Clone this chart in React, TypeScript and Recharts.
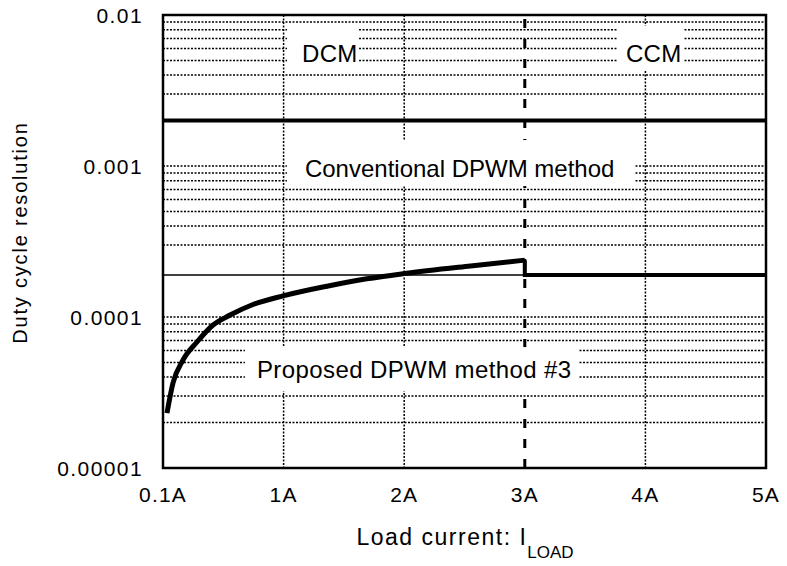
import {
  ComposedChart,
  Line,
  XAxis,
  YAxis,
  CartesianGrid,
  ReferenceLine,
  ReferenceDot,
  ReferenceArea,
} from "recharts"

// x axis is evenly spaced: 0 -> 0.1A, then 1A..5A
const xTicks = [0, 1, 2, 3, 4, 5]
const xTickLabels = ["0.1A", "1A", "2A", "3A", "4A", "5A"]

const yTicks = [1e-5, 1e-4, 1e-3, 1e-2]
const yTickLabels = ["0.00001", "0.0001", "0.001", "0.01"]

// dotted log grid (2e-4 / 2e-3 sit under the solid lines)
const yGrid = [
  2e-5, 3e-5, 4e-5, 5e-5, 6e-5, 7e-5, 8e-5, 9e-5,
  1e-4, 3e-4, 4e-4, 5e-4, 6e-4, 7e-4, 8e-4, 9e-4,
  1e-3, 3e-3, 4e-3, 5e-3, 6e-3, 7e-3, 8e-3, 9e-3,
]
const xGrid = [1, 2, 4]

// Proposed DPWM method #3 (DCM part)
const proposedCurrent = [0.033, 0.083, 0.166, 0.282, 0.415, 0.556, 0.746, 0.995, 1.36, 1.69, 2.0, 2.55, 3.0]
const proposedRes = [2.31e-5, 3.66e-5, 5.19e-5, 6.83e-5, 8.85e-5, 1.03e-4, 1.21e-4, 1.38e-4, 1.6e-4, 1.79e-4, 1.94e-4, 2.18e-4, 2.38e-4]

// CCM part
const ccmCurrent = [3, 3, 5]
const ccmRes = [2.38e-4, 1.9e-4, 1.9e-4]

// Conventional DPWM method
const convCurrent = [0, 5]
const convRes = [0.002, 0.002]

const thinLevel = 1.9e-4
const boundary = 3

const toRows = (xs: number[], ys: number[]) => xs.map((x, i) => ({ x, y: ys[i] }))
const proposedData = toRows(proposedCurrent, proposedRes)
const ccmData = toRows(ccmCurrent, ccmRes)
const convData = toRows(convCurrent, convRes)

// text notes: anchor = text start/baseline, box = [dx, dy, w, h] in px
const notes = [
  { text: "DCM", x: 1.153, y: 4.89e-3, box: [-15, -35, 72, 41], ls: 0.3 },
  { text: "CCM", x: 3.839, y: 4.89e-3, box: [-9, -36, 66, 44], ls: 0.3 },
  { text: "Conventional DPWM method", x: 1.177, y: 8.45e-4, box: [-18, -37, 347, 46], ls: 0 },
  { text: "Proposed DPWM method #3", x: 0.779, y: 3.94e-5, box: [-12, -31, 333, 44], ls: 0.4 },
]

const font = "'Liberation Sans', Arial, sans-serif"

const xLabel = (v: number) => xTickLabels[xTicks.indexOf(v)] ?? ""
const yLabel = (v: number) => yTickLabels[yTicks.indexOf(v)] ?? ""

function XTick(props: any) {
  const { x, y, payload } = props
  return (
    <text
      x={x}
      y={y}
      dy="0.71em"
      textAnchor="middle"
      fill="#000"
      style={{ fontSize: "21px", letterSpacing: "1.2px", fontFamily: font }}
    >
      {xLabel(payload.value)}
    </text>
  )
}

function YTick(props: any) {
  const { x, y, payload } = props
  return (
    <text
      x={x}
      y={y}
      dy="0.36em"
      textAnchor="end"
      fill="#000"
      style={{ fontSize: "21px", letterSpacing: "1.4px", fontFamily: font }}
    >
      {yLabel(payload.value)}
    </text>
  )
}

function YTitle({ viewBox }: any) {
  const cx = viewBox.x + 27
  const cy = viewBox.y + viewBox.height / 2 - 9
  return (
    <text
      x={cx}
      y={cy}
      transform={`rotate(-90 ${cx} ${cy})`}
      textAnchor="middle"
      fill="#000"
      style={{ fontSize: "20px", letterSpacing: "1.8px" }}
    >
      Duty cycle resolution
    </text>
  )
}

function XTitle({ viewBox }: any) {
  const x = viewBox.x + viewBox.width / 2 - 108
  const y = viewBox.y + 77
  return (
    <text x={x} y={y} fill="#000" style={{ fontSize: "23px", letterSpacing: "1.5px" }}>
      Load current: I
      <tspan dy={13} style={{ fontSize: "17px", letterSpacing: "0px" }}>
        LOAD
      </tspan>
    </text>
  )
}

export default function App() {
  return (
    <div
      style={{
        position: "absolute",
        left: 0,
        top: 0,
        background: "#fff",
        fontFamily: font,
      }}
    >
      <ComposedChart
        width={787}
        height={566}
        margin={{ top: 15, right: 21, bottom: 0, left: 0 }}
      >
        <CartesianGrid
          horizontalValues={yGrid}
          verticalValues={xGrid}
          stroke="#000"
          strokeWidth={1.5}
          strokeDasharray="2 1.5"
        />
        <XAxis
          dataKey="x"
          type="number"
          domain={[0, 5]}
          ticks={xTicks}
          interval={0}
          tickFormatter={xLabel}
          axisLine={false}
          tickLine={false}
          tickSize={0}
          tickMargin={19}
          height={98}
          tick={(p: any) => <XTick {...p} />}
          label={(p: any) => <XTitle {...p} />}
          allowDataOverflow
        />
        <YAxis
          type="number"
          scale="log"
          domain={[1e-5, 1e-2]}
          ticks={yTicks}
          interval={0}
          tickFormatter={yLabel}
          axisLine={false}
          tickLine={false}
          tickSize={0}
          tickMargin={20}
          width={163}
          tick={(p: any) => <YTick {...p} />}
          label={(p: any) => <YTitle {...p} />}
          allowDataOverflow
        />
        <ReferenceLine
          x={boundary}
          stroke="#000"
          strokeWidth={3}
          strokeDasharray="9 11"
          zIndex={50}
        />
        <ReferenceLine y={thinLevel} stroke="#000" strokeWidth={1.5} zIndex={50} />
        {notes.map((n) => (
          <ReferenceDot
            key={n.text}
            x={n.x}
            y={n.y}
            r={0}
            zIndex={60}
            shape={(p: any) => (
              <g>
                <rect
                  x={p.cx + n.box[0]}
                  y={p.cy + n.box[1]}
                  width={n.box[2]}
                  height={n.box[3]}
                  fill="#fff"
                />
                <text
                  x={p.cx}
                  y={p.cy}
                  fill="#000"
                  style={{ fontSize: "24px", letterSpacing: `${n.ls}px` }}
                >
                  {n.text}
                </text>
              </g>
            )}
          />
        ))}
        <Line
          data={convData}
          dataKey="y"
          stroke="#000"
          strokeWidth={4}
          dot={false}
          activeDot={false}
          isAnimationActive={false}
          type="linear"
        />
        <Line
          data={proposedData}
          dataKey="y"
          stroke="#000"
          strokeWidth={5}
          dot={false}
          activeDot={false}
          isAnimationActive={false}
          type="monotone"
        />
        <Line
          data={ccmData}
          dataKey="y"
          stroke="#000"
          strokeWidth={4}
          dot={false}
          activeDot={false}
          isAnimationActive={false}
          type="linear"
        />
        <ReferenceArea
          x1={0}
          x2={5}
          y1={1e-5}
          y2={1e-2}
          fill="none"
          stroke="#000"
          strokeWidth={2.5}
          zIndex={500}
        />
      </ComposedChart>
    </div>
  )
}
